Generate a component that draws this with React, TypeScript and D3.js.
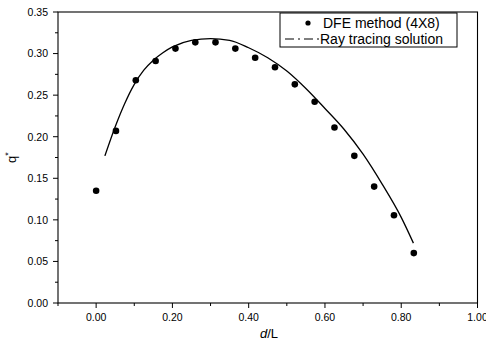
import React from "react";
import * as d3 from "d3";

const dfeX = [0, 0.052, 0.104, 0.156, 0.208, 0.26, 0.313, 0.365, 0.417, 0.469, 0.521, 0.573, 0.625, 0.677, 0.729, 0.781, 0.833];
const dfeQ = [0.135, 0.207, 0.268, 0.291, 0.306, 0.3135, 0.3135, 0.306, 0.295, 0.2835, 0.263, 0.242, 0.211, 0.177, 0.14, 0.1055, 0.06];

const rayX = [0.023, 0.05, 0.075, 0.1, 0.125, 0.15, 0.175, 0.2, 0.25, 0.3, 0.35, 0.4, 0.45, 0.5, 0.55, 0.6, 0.65, 0.7, 0.75, 0.8, 0.832];
const rayQ = [0.177, 0.212, 0.24, 0.263, 0.28, 0.292, 0.301, 0.308, 0.316, 0.318, 0.316, 0.307, 0.295, 0.279, 0.258, 0.234, 0.209, 0.179, 0.143, 0.103, 0.072];

const xMajor = [0, 0.2, 0.4, 0.6, 0.8, 1.0];
const xMinor = [-0.1, 0.1, 0.3, 0.5, 0.7, 0.9];
const yMajor = [0, 0.05, 0.1, 0.15, 0.2, 0.25, 0.3, 0.35];
const yMinor = [0.025, 0.075, 0.125, 0.175, 0.225, 0.275, 0.325];

const legendLabels = ["DFE method (4X8)", "Ray tracing solution"];

const W = 486, H = 346;
const L = 58, R = 477.5, T = 12, B = 303;
const FONT = "'Liberation Sans', Arial, sans-serif";

export default function App() {
  const x = d3.scaleLinear().domain([-0.1, 1.0]).range([L, R]);
  const y = d3.scaleLinear().domain([0, 0.35]).range([B, T]);
  const line = d3
    .line<number>()
    .x((_, i) => x(rayX[i]))
    .y((d) => y(d))
    .curve(d3.curveMonotoneX);
  const fmt = d3.format(".2f");

  return (
    <svg width={W} height={H} style={{ position: "absolute", left: 0, top: 0, background: "#fff" }} fontFamily={FONT}>
      <rect x={0} y={0} width={W} height={H} fill="#fff" />
      {/* frame */}
      <rect x={L} y={T} width={R - L} height={B - T} fill="none" stroke="#000" strokeWidth={1.1} />
      {/* x ticks */}
      {xMajor.map((v) => (
        <g key={"xm" + v}>
          <line x1={x(v)} x2={x(v)} y1={B} y2={B + 5} stroke="#000" strokeWidth={1} />
          <text x={x(v)} y={B + 18} fontSize={10.5} textAnchor="middle" fill="#000">{fmt(v)}</text>
        </g>
      ))}
      {xMinor.map((v) => (
        <line key={"xn" + v} x1={x(v)} x2={x(v)} y1={B} y2={B + 3} stroke="#000" strokeWidth={1} />
      ))}
      {/* y ticks */}
      {yMajor.map((v) => (
        <g key={"ym" + v}>
          <line x1={L - 5} x2={L} y1={y(v)} y2={y(v)} stroke="#000" strokeWidth={1} />
          <text x={L - 10} y={y(v) + 3.8} fontSize={10.5} textAnchor="end" fill="#000">{fmt(v)}</text>
        </g>
      ))}
      {yMinor.map((v) => (
        <line key={"yn" + v} x1={L - 3} x2={L} y1={y(v)} y2={y(v)} stroke="#000" strokeWidth={1} />
      ))}
      {/* axis titles */}
      <text x={269} y={338} fontSize={13} textAnchor="middle" fill="#000">
        <tspan fontStyle="italic">d</tspan>/L
      </text>
      <text transform={`translate(16,${(T + B) / 2}) rotate(-90)`} fontSize={13} textAnchor="middle" fill="#000">
        q<tspan dy={-5} fontSize={9}>*</tspan>
      </text>
      {/* ray tracing line */}
      <path d={line(rayQ) || ""} fill="none" stroke="#000" strokeWidth={1.3} />
      {/* DFE points */}
      {dfeX.map((v, i) => (
        <circle key={"p" + i} cx={x(v)} cy={y(dfeQ[i])} r={3.3} fill="#000" />
      ))}
      {/* legend */}
      <rect x={280} y={13} width={177} height={34} fill="#fff" stroke="#000" strokeWidth={1} />
      <circle cx={308} cy={23} r={2.6} fill="#000" />
      <text x={323} y={27.5} fontSize={14} fill="#000">{legendLabels[0]}</text>
      <line x1={285} x2={319} y1={39} y2={39} stroke="#000" strokeWidth={1.2} strokeDasharray="9,4,2,4" />
      <text x={320} y={43.5} fontSize={14} fill="#000">{legendLabels[1]}</text>
    </svg>
  );
}
